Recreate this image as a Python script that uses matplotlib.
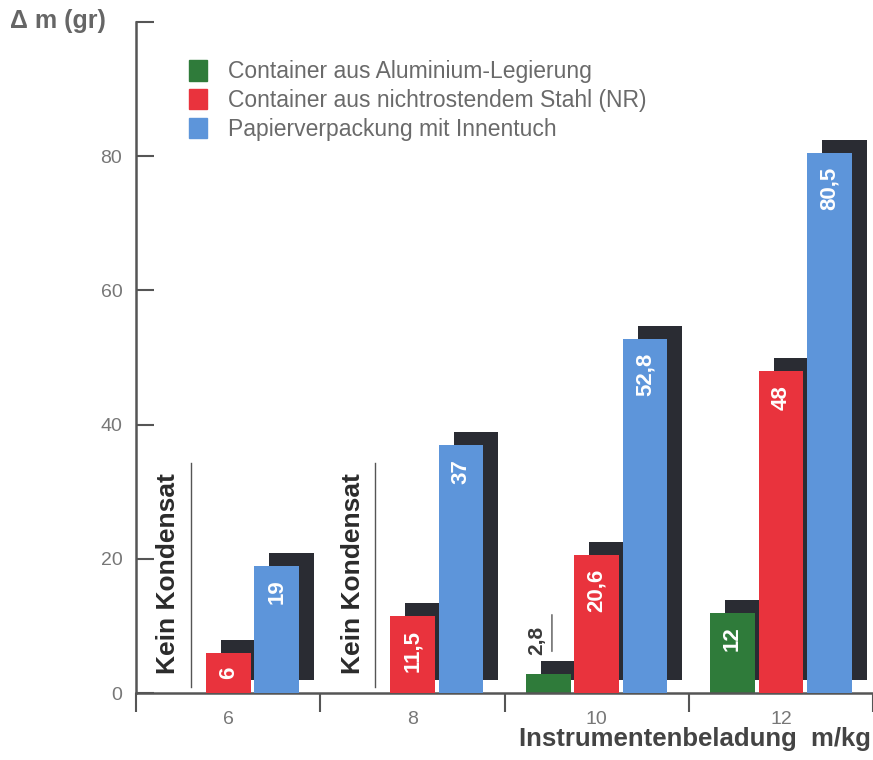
import numpy as np
import matplotlib
matplotlib.use("Agg")
import matplotlib.pyplot as plt
from matplotlib.transforms import ScaledTranslation

plt.rcParams['font.family'] = ['Liberation Sans', 'DejaVu Sans']

categories = ['6', '8', '10', '12']
alu = [np.nan, np.nan, 2.8, 12]
stahl = [6, 11.5, 20.6, 48]
papier = [19, 37, 52.8, 80.5]
series_names = ['Container aus Aluminium-Legierung',
                'Container aus nichtrostendem Stahl (NR)',
                'Papierverpackung mit Innentuch']
colors = ['#2f7b3a', '#e9333d', '#5d95da']
shadow_color = '#2a2c33'
yticks = [0, 20, 40, 60, 80]

fig = plt.figure(figsize=(8.73, 7.6), dpi=100)
ax = fig.add_axes([0.156, 0.088, 0.844, 0.883])

x = np.arange(len(categories))
pitch = 0.263
width = 0.242
offsets = [-pitch, 0, pitch]
shadow_tr = ax.transData + ScaledTranslation(0.15, 0.13, fig.dpi_scale_trans)

all_series = [alu, stahl, papier]
for si, (vals, col, off) in enumerate(zip(all_series, colors, offsets)):
    v = np.array(vals, dtype=float)
    m = ~np.isnan(v)
    ax.bar(x[m] + off, v[m], width=width, color=shadow_color, transform=shadow_tr,
           zorder=1 + si * 2, linewidth=0)
    ax.bar(x[m] + off, v[m], width=width, color=col, zorder=2 + si * 2, linewidth=0)

# value labels inside bars
for si, (vals, off) in enumerate(zip(all_series, offsets)):
    for xi, val in zip(x, vals):
        if np.isnan(val):
            continue
        txt = ('%g' % val).replace('.', ',')
        if val < 5:
            ax.annotate(txt, xy=(xi + off, val), xytext=(-8, 14), textcoords='offset points',
                        rotation=90, ha='center', va='bottom', fontsize=15, fontweight='bold',
                        color='#3a3a3a', zorder=20)
            ax.annotate('', xy=(xi + off + 0.02, val + 3.0), xytext=(xi + off + 0.02, val + 9.3),
                        arrowprops=dict(arrowstyle='-', color='#555555', lw=1), zorder=20)
        else:
            ax.annotate(txt, xy=(xi + off, val), xytext=(0, -10), textcoords='offset points',
                        rotation=90, ha='center', va='top', fontsize=16, fontweight='bold',
                        color='white', zorder=20)

# "Kein Kondensat" notes for the missing aluminium bars
for xi, val in zip(x, alu):
    if np.isnan(val):
        ax.text(xi - 0.325, 2.9, 'Kein Kondensat', rotation=90, ha='center', va='bottom',
                fontsize=19, fontweight='bold', color='#2b2b2b', zorder=20)
        ax.plot([xi - 0.205, xi - 0.205], [0.9, 34.3], color='#555555', lw=1, zorder=20)

ax.set_xlim(-0.5, 3.45)
ax.set_ylim(0, 100)

ax.spines['top'].set_visible(False)
ax.spines['right'].set_visible(False)
for s in ['left', 'bottom']:
    ax.spines[s].set_color('#555555')
    ax.spines[s].set_linewidth(1.8)

ax.set_yticks(yticks + [100])
ax.set_yticklabels([str(t) for t in yticks] + [''])
ax.tick_params(axis='y', direction='in', length=13, width=1.5, color='#555555',
               labelsize=14, labelcolor='#777777', pad=10)

ax.set_xticks(x)
ax.set_xticklabels(categories)
ax.set_xticks(np.arange(-0.5, 3.6, 1.0), minor=True)
ax.tick_params(axis='x', which='major', length=0, labelsize=14, labelcolor='#777777', pad=13)
ax.tick_params(axis='x', which='minor', direction='out', length=14, width=1.5, color='#555555')

fig.text(0.997, 0.012, 'Instrumentenbeladung  m/kg', ha='right', va='bottom',
         fontsize=18.5, fontweight='bold', color='#444444')
fig.text(0.012, 0.973, '\u0394 m (gr)', ha='left', va='center', fontsize=18,
         fontweight='bold', color='#666666')

# legend
handles = [plt.Rectangle((0, 0), 1, 1, color=c) for c in colors]
leg = ax.legend(handles, series_names, loc='upper left', bbox_to_anchor=(0.059, 0.957),
                frameon=False, fontsize=16.5, handlelength=0.8, handleheight=1.0,
                handletextpad=0.9, labelspacing=0.25, labelcolor='#6a6a6a', borderaxespad=0)

fig.savefig('out.png', dpi=100)
